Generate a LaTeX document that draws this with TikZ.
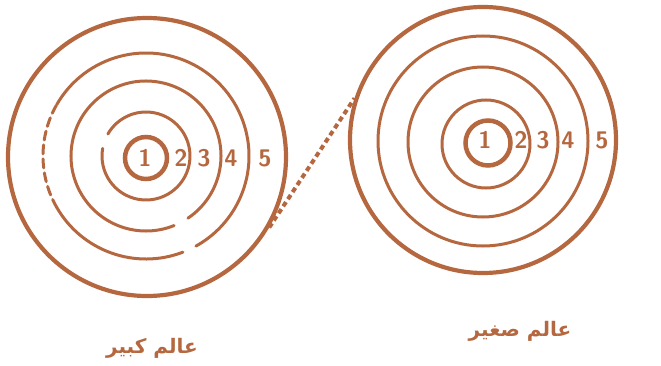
\documentclass[tikz,border=0pt]{standalone}
\usepackage{fontspec}
\usepackage{tikz}
\usetikzlibrary{positioning, calc}
\TeXXeTstate=1
\newfontfamily\arabicfont[Script=Arabic]{DejaVu Sans}
\definecolor{rust}{HTML}{B5683F}
\tikzset{
  ring/.style={draw=rust, line width=3pt, line cap=round},
  outerring/.style={draw=rust, line width=4.2pt, circle, inner sep=0pt},
  corering/.style={draw=rust, line width=4.5pt, circle, inner sep=0pt},
  numlab/.style={text=rust, font=\fontsize{24}{24}\selectfont\sffamily\bfseries, inner sep=0pt},
  worldlab/.style={text=rust, font=\fontsize{20}{24}\selectfont\arabicfont\bfseries, inner sep=0pt},
  linkline/.style={draw=rust, line width=4pt, dash pattern=on 5pt off 3.5pt}
}

\begin{document}
\begin{tikzpicture}[x=1pt, y=-1pt]
  \useasboundingbox (0,0) rectangle (661,366);

  % left world (big)
  \node[outerring, minimum size=278pt] (bigOuter) at (147,157) {};
  \coordinate (bigC) at (146,156);
  \draw[ring] ($(bigC)+(150:103pt)$) arc[start angle=150, end angle=-61, radius=103pt];
  \draw[ring] ($(bigC)+(-69:103pt)$) arc[start angle=-69, end angle=-150, radius=103pt];
  \draw[ring, dash pattern=on 9pt off 5pt] ($(bigC)+(-150:103pt)$) arc[start angle=-150, end angle=-210, radius=103pt];
  \draw[ring] ($(bigC)+(-56:75pt)$) arc[start angle=-56, end angle=292, radius=75pt];
  \draw[ring] ($(bigC)+(170:44pt)$) arc[start angle=170, end angle=510, radius=44pt];
  \node[corering, minimum width=38pt, minimum height=42pt] (bigCore) at (146,158) {};

  \node[numlab] (bigN1) at (145,158) {1};
  \node[numlab] (bigN2) at (181,158) {2};
  \node[numlab] (bigN3) at (204,158) {3};
  \node[numlab] (bigN4) at (231,158) {4};
  \node[numlab] (bigN5) at (265,158) {5};

  % right world (small)
  \node[outerring, minimum size=266pt] (smallOuter) at (483,140) {};
  \draw[ring] (483,141) circle[radius=105pt];
  \draw[ring] (483,142) circle[radius=75pt];
  \draw[ring] (486,144) circle[radius=44pt];
  \node[corering, minimum width=44pt, minimum height=45pt] (smallCore) at (488,143) {};

  \node[numlab] (smallN1) at (485,140) {1};
  \node[numlab] (smallN2) at (521,140) {2};
  \node[numlab] (smallN3) at (543,140) {3};
  \node[numlab] (smallN4) at (568,140) {4};
  \node[numlab] (smallN5) at (602,140) {5};

  % link between the worlds
  \draw[linkline] (bigOuter.-30) -- (smallOuter.162);

  % names
  \node[worldlab] (bigName) at (152,348) {\beginR عالم کبیر\endR};
  \node[worldlab] (smallName) at (520,331) {\beginR عالم صغیر\endR};
\end{tikzpicture}
\end{document}
